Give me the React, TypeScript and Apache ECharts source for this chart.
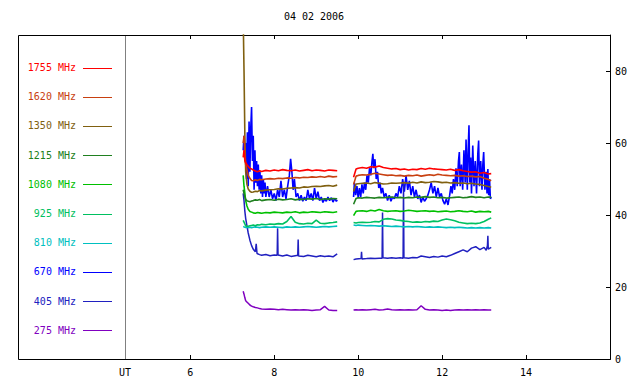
import React, { useEffect, useRef } from "react";
import * as echarts from "echarts";

const TITLE = "04 02 2006";
const X_LABEL_UT = "UT";
const FREQS = ["1755 MHz", "1620 MHz", "1350 MHz", "1215 MHz", "1080 MHz", "925 MHz", "810 MHz", "670 MHz", "405 MHz", "275 MHz"];
const COLORS = ["#ff0000", "#c84010", "#806010", "#208020", "#00c000", "#00c060", "#00c0c0", "#0000ff", "#2020c0", "#8000c0"];
const X_TICKS = [6, 8, 10, 12, 14];
const Y_TICKS = [0, 20, 40, 60, 80];
const Y_TICK_MARKS = [20, 40, 60, 80];

// common time base (UT hours); 9.70 is the data gap
const HOURS = [
  7.26, 7.28, 7.30, 7.32, 7.35, 7.38, 7.42, 7.46, 7.50, 7.55, 7.60, 7.65, 7.70, 7.80, 7.90, 8.00,
  8.10, 8.20, 8.30, 8.40, 8.50, 8.60, 8.70, 8.80, 8.90, 9.00, 9.10, 9.20, 9.30, 9.40, 9.50,
  9.70,
  9.89, 9.95, 10.0, 10.1, 10.2, 10.3, 10.4, 10.5, 10.6, 10.7, 10.8, 10.9, 11.0, 11.1, 11.2, 11.3,
  11.4, 11.5, 11.6, 11.7, 11.8, 11.9, 12.0, 12.1, 12.2, 12.3, 12.4, 12.5, 12.6, 12.7, 12.8, 12.9,
  13.0, 13.1, 13.17,
];

const V1755 = [
  56, 58, 55, 54.5, 54, 53.5, 53, 52.8, 52.5, 52.2, 52.0, 52.3, 52.1, 52.4, 52.2, 52.5, 52.3, 52.6, 52.4, 52.3,
  52.5, 52.2, 52.4, 52.6, 52.3, 52.5, 52.4, 52.2, 52.5, 52.4, 52.3,
  null,
  50.5, 52.8, 53.0, 53.2, 53.0, 53.4, 53.3, 53.6, 53.2, 53.0, 52.8, 52.9, 52.6, 52.8, 52.5, 52.7, 52.6, 52.9,
  52.7, 53.0, 52.8, 52.7, 52.6, 52.5, 52.7, 52.4, 52.6, 52.3, 52.1, 51.9, 52.0, 51.6, 51.8, 51.4, 51.5,
];
const V1620 = [
  60, 62, 57, 54, 52.5, 51, 50.2, 49.6, 49.5, 49.8, 49.6, 49.9, 49.8, 50.0, 50.1, 50.0, 50.2, 50.1, 50.3, 50.2,
  50.4, 50.3, 50.5, 50.4, 50.6, 50.5, 50.7, 50.5, 50.8, 50.6, 50.7,
  null,
  48.5, 50.8, 51.0, 51.2, 51.1, 51.3, 51.6, 51.4, 51.2, 51.0, 51.1, 50.9, 51.0, 50.8, 51.0, 50.9, 51.1, 50.8,
  51.0, 51.2, 51.0, 51.3, 51.1, 51.0, 50.9, 51.0, 50.8, 50.9, 50.7, 50.8, 50.6, 50.7, 50.2, 49.9, 49.5,
];
const V1350 = [
  95, 80, 62, 52, 48.5, 47.2, 46.6, 46.3, 46.4, 46.6, 46.5, 46.8, 46.7, 46.9, 47.0, 47.1, 47.3, 47.2, 47.4, 47.5,
  47.6, 47.5, 47.8, 47.7, 47.9, 48.0, 47.9, 48.1, 48.2, 48.0, 48.3,
  null,
  46.5, 48.6, 48.7, 48.8, 48.9, 48.7, 49.0, 48.8, 48.6, 48.7, 48.9, 48.8, 48.9, 49.0, 48.8, 49.1, 48.9, 49.2,
  49.0, 49.1, 49.3, 49.2, 49.0, 49.1, 48.9, 49.0, 48.8, 48.9, 48.7, 48.8, 48.6, 48.5, 48.2, 47.9, 47.7,
];
const V1215 = [
  47, 46, 45, 44.3, 44.0, 43.8, 43.7, 43.9, 44.0, 44.2, 44.1, 44.3, 44.0, 44.2, 44.3, 44.1, 44.4, 44.2, 44.3, 44.5,
  44.2, 44.4, 44.3, 44.5, 44.4, 44.6, 44.3, 44.5, 44.4, 44.6, 44.5,
  null,
  43.0, 44.6, 44.8, 44.7, 44.9, 44.8, 44.7, 44.9, 44.8, 44.9, 45.0, 44.8, 44.9, 44.7, 44.9, 44.8, 45.0, 44.9,
  45.1, 44.9, 45.0, 44.8, 44.9, 44.7, 44.8, 44.9, 45.0, 44.8, 44.9, 45.1, 44.9, 45.0, 44.8, 45.0, 44.9,
];
const V1080 = [
  51, 48, 46, 44, 42.5, 41.6, 41.0, 40.8, 40.6, 40.5, 40.7, 40.6, 40.5, 40.7, 40.6, 40.8, 40.7, 40.6, 40.8, 40.7,
  40.9, 40.6, 40.8, 40.7, 40.9, 40.8, 40.7, 40.9, 40.8, 40.7, 40.9,
  null,
  39.8, 41.0, 41.1, 41.2, 41.0, 41.3, 41.1, 41.5, 41.2, 41.0, 41.1, 41.2, 41.0, 41.1, 41.3, 41.2, 41.0, 41.1,
  41.2, 41.0, 41.1, 40.9, 41.0, 41.1, 40.9, 41.0, 41.2, 41.0, 40.9, 41.1, 40.8, 41.0, 40.9, 41.0, 40.8,
];
const V925 = [
  38.5, 38, 37.5, 37.0, 36.8, 36.9, 37.0, 37.1, 37.2, 37.0, 37.3, 37.2, 37.4, 37.3, 37.5, 37.4, 37.6, 37.5, 38.2, 39.6,
  38.0, 37.6, 37.5, 37.7, 37.6, 38.6, 37.7, 37.6, 37.8, 37.9, 38.1,
  null,
  37.9, 37.8, 37.9, 38.0, 37.9, 38.0, 38.2, 38.1, 38.8, 39.0, 38.9, 38.6, 38.5, 38.3, 38.2, 38.0, 38.1, 38.0,
  38.2, 38.1, 38.3, 38.2, 38.6, 38.9, 38.7, 38.4, 38.0, 37.8, 37.6, 37.7, 37.6, 37.8, 38.2, 38.8, 39.2,
];
const V810 = [
  36.8, 36.7, 36.6, 36.5, 36.6, 36.5, 36.6, 36.5, 36.6, 36.7, 36.6, 36.5, 36.6, 36.7, 36.6, 36.7, 36.6, 36.5, 36.7, 36.6,
  36.7, 36.6, 36.7, 36.8, 36.7, 36.6, 36.7, 36.8, 36.7, 36.8, 36.9,
  null,
  37.2, 37.1, 37.2, 37.1, 37.0, 37.1, 37.0, 36.9, 37.0, 36.9, 36.8, 36.9, 36.8, 36.7, 36.8, 36.7, 36.8, 36.7,
  36.6, 36.7, 36.6, 36.7, 36.6, 36.5, 36.6, 36.5, 36.6, 36.5, 36.4, 36.5, 36.4, 36.5, 36.4, 36.5, 36.4,
];
const V275 = [
  18.8, 18.0, 17.0, 16.2, 15.8, 15.5, 15.0, 14.7, 14.5, 14.3, 14.2, 14.0, 13.9, 13.8, 13.9, 13.8, 13.7, 13.8, 13.7, 13.6,
  13.7, 13.6, 13.7, 13.6, 13.5, 13.6, 13.7, 14.6, 13.6, 13.5, 13.5,
  null,
  13.6, 13.7, 13.6, 13.7, 13.6, 13.7, 13.8, 13.6, 13.7, 13.9, 13.7, 13.6, 13.7, 13.6, 13.7, 13.6, 13.7, 14.8,
  13.8, 13.6, 13.7, 13.6, 13.5, 13.6, 13.5, 13.6, 13.7, 13.6, 13.7, 13.6, 13.7, 13.6, 13.7, 13.6, 13.6,
];

// 670 MHz: [UT hour, value] (denser sampling)
const P670 = [
  [7.26, 58], [7.28, 62], [7.30, 55], [7.32, 60], [7.34, 50], [7.36, 63], [7.38, 48], [7.40, 66], [7.42, 52], [7.44, 64],
  [7.46, 70], [7.48, 55], [7.50, 62], [7.52, 47], [7.54, 58], [7.56, 49], [7.58, 55], [7.60, 48], [7.62, 54], [7.64, 47],
  [7.66, 52], [7.68, 46], [7.70, 51], [7.72, 45], [7.74, 50], [7.76, 46], [7.78, 49], [7.80, 45], [7.84, 48], [7.88, 45],
  [7.92, 47], [7.96, 44.5], [8.00, 46], [8.04, 44], [8.08, 47], [8.12, 45], [8.16, 49.5], [8.20, 45], [8.24, 47], [8.28, 44.5],
  [8.32, 48], [8.36, 51], [8.39, 55.6], [8.42, 52], [8.45, 47], [8.48, 50], [8.52, 45], [8.56, 46], [8.60, 44], [8.64, 45.5],
  [8.68, 43.8], [8.72, 45], [8.76, 44], [8.80, 47], [8.84, 44.5], [8.88, 46], [8.92, 44], [8.96, 47.5], [9.00, 44.5], [9.04, 46.5],
  [9.08, 44], [9.12, 45], [9.16, 43.5], [9.20, 44.5], [9.24, 43.8], [9.28, 45], [9.32, 44], [9.36, 44.8], [9.40, 43.6], [9.44, 44.6],
  [9.48, 43.8], [9.50, 44.2],
  [9.70, null],
  [9.89, 45], [9.91, 49], [9.94, 45.5], [9.97, 48], [10.00, 44.8], [10.03, 47.5], [10.06, 45], [10.09, 48.5], [10.12, 46], [10.15, 49],
  [10.18, 47], [10.21, 51], [10.24, 49], [10.27, 53], [10.30, 51], [10.33, 55], [10.35, 57], [10.37, 53], [10.40, 55.5], [10.43, 50],
  [10.46, 52], [10.49, 47.5], [10.52, 49], [10.55, 46], [10.58, 47.5], [10.62, 45], [10.66, 46], [10.70, 44], [10.74, 45.5], [10.78, 43.8],
  [10.82, 45], [10.86, 44.5], [10.90, 46], [10.94, 45], [10.98, 48], [11.02, 46], [11.06, 50], [11.10, 46.5], [11.14, 51], [11.18, 47],
  [11.22, 49.5], [11.26, 45.5], [11.30, 48], [11.34, 45], [11.38, 47], [11.42, 44.5], [11.46, 45.5], [11.50, 43.5], [11.54, 45], [11.58, 43.8],
  [11.62, 44.5], [11.66, 45.5], [11.70, 47], [11.74, 49], [11.78, 46], [11.82, 48], [11.86, 45], [11.90, 47.5], [11.94, 45], [11.98, 46],
  [12.02, 44], [12.06, 43], [12.10, 44.5], [12.14, 42.8], [12.18, 45.5], [12.21, 48], [12.24, 46], [12.27, 50], [12.30, 47], [12.33, 53],
  [12.36, 48], [12.39, 55], [12.41, 57.5], [12.43, 48], [12.46, 54], [12.49, 47], [12.52, 58], [12.55, 49], [12.57, 61], [12.60, 47],
  [12.62, 58], [12.64, 64.9], [12.66, 49], [12.68, 56], [12.70, 46], [12.73, 59.3], [12.76, 48], [12.79, 55], [12.82, 46], [12.85, 57],
  [12.87, 60.7], [12.89, 48], [12.92, 55], [12.95, 47], [12.97, 54], [12.99, 57.5], [13.02, 47], [13.05, 52], [13.07, 46], [13.09, 52.8],
  [13.11, 45.5], [13.13, 50], [13.15, 44.5], [13.17, 45],
];

// 405 MHz: [UT hour, value]
const P405 = [
  [7.26, 46], [7.28, 44], [7.30, 41], [7.32, 39], [7.35, 37], [7.38, 35], [7.42, 33], [7.46, 31.5], [7.50, 30.5], [7.55, 29.8],
  [7.57, 32], [7.59, 29.3], [7.65, 29.0], [7.70, 28.8], [7.80, 29.0], [7.90, 28.7], [8.00, 28.9], [8.07, 28.8], [8.08, 36.3], [8.09, 28.9],
  [8.20, 28.6], [8.30, 28.9], [8.40, 28.5], [8.50, 28.7], [8.56, 28.8], [8.57, 33.2], [8.58, 28.6], [8.70, 28.5], [8.80, 28.8], [8.90, 28.6],
  [9.00, 28.4], [9.10, 28.7], [9.20, 28.5], [9.30, 28.6], [9.40, 28.4], [9.50, 29.2],
  [9.70, null],
  [9.89, 27.6], [9.95, 27.8], [10.07, 27.9], [10.08, 29.8], [10.09, 27.8], [10.2, 27.9], [10.3, 28.0], [10.4, 27.9], [10.5, 28.0], [10.57, 28.0],
  [10.58, 40.7], [10.59, 28.1], [10.7, 28.0], [10.8, 28.1], [10.9, 28.0], [11.0, 28.1], [11.07, 28.0], [11.08, 48.6], [11.09, 28.1], [11.2, 28.0],
  [11.3, 28.2], [11.4, 28.1], [11.5, 28.6], [11.6, 28.4], [11.7, 28.2], [11.8, 28.5], [11.9, 28.3], [12.0, 28.6], [12.1, 28.4], [12.2, 28.8],
  [12.3, 29.3], [12.4, 29.8], [12.5, 30.3], [12.6, 29.8], [12.7, 30.8], [12.8, 31.2], [12.9, 30.4], [13.0, 31.0], [13.05, 30.2], [13.08, 31.5],
  [13.09, 34.2], [13.1, 30.5], [13.17, 31.0],
];

const FONT = "'DejaVu Sans Mono', monospace";

export default function App() {
  const ref = useRef<HTMLDivElement>(null);
  useEffect(() => {
    if (!ref.current) return;
    const chart = echarts.init(ref.current, null, { renderer: "svg" });
    const common = [V1755, V1620, V1350, V1215, V1080, V925, V810];
    const toPairs = (vals: (number | null)[]) => HOURS.map((h, i) => [h, vals[i] == null ? "-" : vals[i]]);
    const pairFix = (arr: any[]) => arr.map((p) => [p[0], p[1] == null ? "-" : p[1]]);
    const lineSeries = (name: string, color: string, data: any[], width: number) => ({
      name,
      type: "line",
      data,
      showSymbol: false,
      symbol: "none",
      connectNulls: false,
      lineStyle: { color, width },
      itemStyle: { color },
      silent: true,
    });
    const series: any[] = [];
    series.push(lineSeries(FREQS[7], COLORS[7], pairFix(P670), 1.6));
    series.push(lineSeries(FREQS[9], COLORS[9], toPairs(V275), 1.5));
    series.push(lineSeries(FREQS[8], COLORS[8], pairFix(P405), 1.5));
    for (let i = common.length - 1; i >= 0; i--) {
      series.push(lineSeries(FREQS[i], COLORS[i], toPairs(common[i]), 1.6));
    }

    const graphic: any[] = [
      {
        type: "rect",
        shape: { x: 18.5, y: 35.5, width: 592, height: 324 },
        style: { fill: "none", stroke: "#000", lineWidth: 1 },
        silent: true,
      },
      {
        type: "line",
        shape: { x1: 125.5, y1: 36, x2: 125.5, y2: 359 },
        style: { stroke: "#808080", lineWidth: 1 },
        silent: true,
      },
      {
        type: "text",
        x: 125,
        y: 372,
        style: { text: X_LABEL_UT, font: `10px ${FONT}`, fill: "#000", textAlign: "center", textVerticalAlign: "middle" },
      },
      {
        type: "text",
        x: 314,
        y: 16,
        style: { text: TITLE, font: `10px ${FONT}`, fill: "#000", textAlign: "center", textVerticalAlign: "middle" },
      },
    ];
    FREQS.forEach((f, i) => {
      const y = 67.5 + i * 29.2;
      graphic.push({
        type: "text",
        x: 76,
        y,
        style: { text: f, font: `10px ${FONT}`, fill: COLORS[i], textAlign: "right", textVerticalAlign: "middle" },
      });
      graphic.push({
        type: "line",
        shape: { x1: 83, y1: Math.round(y) + 0.5, x2: 112, y2: Math.round(y) + 0.5 },
        style: { stroke: COLORS[i], lineWidth: 1 },
      });
    });

    chart.setOption({
      animation: false,
      backgroundColor: "#fff",
      grid: { left: 125, right: 30, top: 35, bottom: 25, show: false },
      xAxis: [
        {
          type: "value",
          position: "bottom",
          min: 4.444,
          max: 16,
          axisLine: { show: true, lineStyle: { color: "#000", width: 1 } },
          axisTick: { show: true, inside: true, length: 4, customValues: X_TICKS, lineStyle: { color: "#000" } },
          axisLabel: { show: true, customValues: X_TICKS, color: "#000", fontFamily: FONT, fontSize: 10, margin: 8 },
          splitLine: { show: false },
        },
        {
          type: "value",
          position: "top",
          min: 4.444,
          max: 16,
          axisLine: { show: false },
          axisTick: { show: true, inside: true, length: 4, customValues: X_TICKS, lineStyle: { color: "#000" } },
          axisLabel: { show: false },
          splitLine: { show: false },
        },
      ],
      yAxis: {
        type: "value",
        position: "right",
        min: 0,
        max: 90,
        axisLine: { show: true, lineStyle: { color: "#000", width: 1 } },
        axisTick: { show: true, inside: true, length: 4, customValues: Y_TICK_MARKS, lineStyle: { color: "#000" } },
        axisLabel: { show: true, customValues: Y_TICKS, color: "#000", fontFamily: FONT, fontSize: 10, margin: 5 },
        splitLine: { show: false },
      },
      graphic,
      series,
    });
    return () => chart.dispose();
  }, []);
  return <div ref={ref} style={{ position: "absolute", left: 0, top: 0, width: 640, height: 384 }} />;
}
